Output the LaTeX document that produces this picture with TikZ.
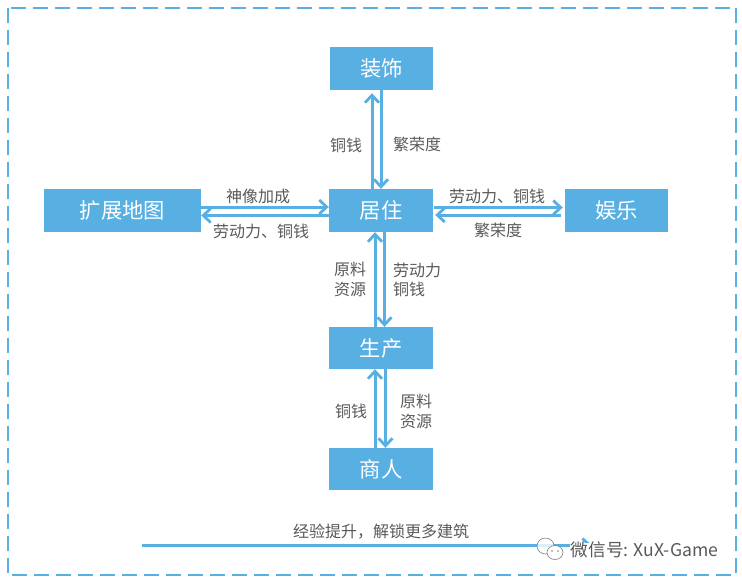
\documentclass[tikz,border=0pt]{standalone}
\usepackage{fontspec}
\setmainfont{Noto Sans CJK SC}
\usetikzlibrary{arrows.meta,positioning,calc}
\definecolor{boxblue}{HTML}{57AFE2}
\definecolor{labelgray}{HTML}{595959}
\tikzset{
    blockbox/.style={fill=boxblue, text=white, minimum height=43pt, inner sep=0pt, font=\fontsize{21.3}{24}\selectfont},
    flow/.style={draw=boxblue, line width=3pt, -{Straight Barb[length=7.5pt,width=14pt,line width=2.8pt]}},
    flowlabel/.style={text=labelgray, inner sep=0pt, align=left, font=\fontsize{16}{19.5}\selectfont}
}
\begin{document}
\begin{tikzpicture}[x=1pt,y=-1pt]
    \useasboundingbox (0,0) rectangle (742,582);
    % Outer frame
    \draw[boxblue, line width=2pt, dash pattern=on 15pt off 7pt] (7.5,7.5) rectangle (736,575);

    % Blocks
    \node[blockbox, minimum width=103pt] (zhuangshi) at (381.5,68.5) {装饰};
    \node[blockbox, minimum width=104pt] (juzhu) at (381,210.5) {居住};
    \node[blockbox, minimum width=157pt] (kuozhan) at (122.5,210.5) {扩展地图};
    \node[blockbox, minimum width=103pt] (yule) at (616.5,210.5) {娱乐};
    \node[blockbox, minimum width=104pt, minimum height=42pt] (shengchan) at (381,348) {生产};
    \node[blockbox, minimum width=104pt, minimum height=42pt] (shangren) at (381,469) {商人};

    % Juzhu - Zhuangshi
    \draw[flow, shorten >=3pt] ([xshift=-9pt]juzhu.north) -- ([xshift=-9.5pt]zhuangshi.south);
    \draw[flow] ([xshift=-0.5pt]zhuangshi.south) -- (juzhu.north);
    \node[flowlabel] (tongqian1) at (346,145) {铜钱};
    \node[flowlabel] (fanrong1) at (417,144) {繁荣度};

    % Kuozhan - Juzhu
    \draw[flow] ([yshift=3.5pt]kuozhan.east) -- ([yshift=3.5pt]juzhu.west);
    \draw[flow] ([yshift=-5pt]juzhu.west) -- ([yshift=-5pt]kuozhan.east);
    \node[flowlabel] (shenxiang) at (258,196) {神像加成};
    \node[flowlabel] (laodong1) at (261,231) {劳动力、铜钱};

    % Juzhu - Yule
    \draw[flow, shorten <=1pt, shorten >=2pt] ([yshift=3pt]juzhu.east) -- ([yshift=3pt]yule.west);
    \draw[flow, shorten <=4pt, shorten >=2pt] ([yshift=-4.5pt]yule.west) -- ([yshift=-4.5pt]juzhu.east);
    \node[flowlabel] (laodong2) at (497,196) {劳动力、铜钱};
    \node[flowlabel] (fanrong2) at (498,230) {繁荣度};

    % Juzhu - Shengchan
    \draw[flow] ([xshift=-6pt]shengchan.north) -- ([xshift=-6pt]juzhu.south);
    \draw[flow] ([xshift=3.5pt]juzhu.south) -- ([xshift=3.5pt]shengchan.north);
    \node[flowlabel] (yuanliao1) at (350,279.5) {原料\\资源};
    \node[flowlabel] (laodong3) at (417,280) {劳动力\\铜钱};

    % Shengchan - Shangren
    \draw[flow] ([xshift=-6pt]shangren.north) -- ([xshift=-6pt]shengchan.south);
    \draw[flow] ([xshift=4.5pt]shengchan.south) -- ([xshift=4.5pt]shangren.north);
    \node[flowlabel] (tongqian2) at (351,411) {铜钱};
    \node[flowlabel] (yuanliao2) at (416,411.5) {原料\\资源};

    % Progress line
    \coordinate (progstart) at (142,545.5);
    \coordinate (progend) at (592,545.5);
    \draw[flow] (progstart) -- (progend);
    \node[flowlabel] (jingyan) at (381,532) {经验提升，解锁更多建筑};

    % Watermark
    \fill[white] (570,543) rectangle (722,562);
    \draw[gray, line width=0.6pt, fill=white, fill opacity=0.8] (545.5,546) ellipse (8.5pt and 8pt);
    \draw[gray, line width=0.6pt, fill=white] (555,552.5) ellipse (8pt and 7pt);
    \fill[gray] (552,551) circle (0.8pt) (558,551) circle (0.8pt);
    \node[text=labelgray, inner sep=0pt, font=\fontsize{17.6}{20}\selectfont] (weixin) at (644.5,550) {微信号: XuX-Game};
\end{tikzpicture}
\end{document}
